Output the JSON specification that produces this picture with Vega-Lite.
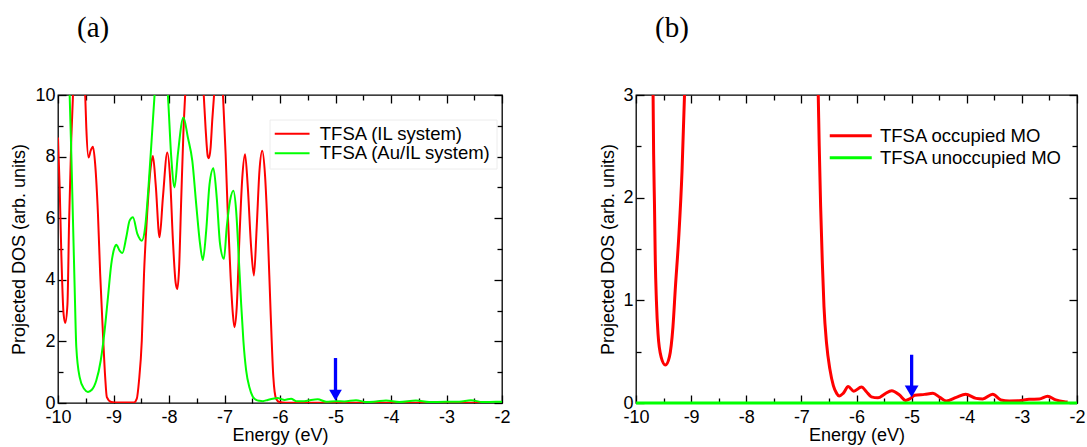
{
  "$schema": "https://vega.github.io/schema/vega-lite/v6.json",
  "padding": {"left": 10, "top": 13, "right": 0, "bottom": 0},
  "background": "white",
  "config": {
    "view": {"stroke": "black", "strokeWidth": 1.3},
    "font": "Liberation Sans",
    "axis": {
      "domain": false, "grid": false, "tickColor": "black", "tickWidth": 1.3,
      "labelFont": "Liberation Sans", "labelFontSize": 18, "labelColor": "black",
      "titleFont": "Liberation Sans", "titleFontSize": 18, "titleFontWeight": "normal", "titleColor": "black",
      "labelFlush": false, "labelOverlap": false
    },
    "legend": {"labelFont": "Liberation Sans", "labelFontSize": 18.5, "labelColor": "black", "labelLimit": 400},
    "title": {"font": "Liberation Serif", "fontSize": 29, "fontWeight": "normal", "color": "black"}
  },
  "datasets": {
    "a": [
      {"E": -10.0, "v": 8.62, "s": "TFSA (IL system)"},
      {"E": -9.97, "v": 7.0, "s": "TFSA (IL system)"},
      {"E": -9.94, "v": 4.84, "s": "TFSA (IL system)"},
      {"E": -9.9, "v": 2.9, "s": "TFSA (IL system)"},
      {"E": -9.87, "v": 2.6, "s": "TFSA (IL system)"},
      {"E": -9.83, "v": 3.2, "s": "TFSA (IL system)"},
      {"E": -9.8, "v": 5.9, "s": "TFSA (IL system)"},
      {"E": -9.76, "v": 8.6, "s": "TFSA (IL system)"},
      {"E": -9.73, "v": 10.0, "s": "TFSA (IL system)"},
      {"E": -9.62, "v": 12.5, "s": "TFSA (IL system)"},
      {"E": -9.51, "v": 10.0, "s": "TFSA (IL system)"},
      {"E": -9.49, "v": 8.94, "s": "TFSA (IL system)"},
      {"E": -9.45, "v": 7.97, "s": "TFSA (IL system)"},
      {"E": -9.41, "v": 8.2, "s": "TFSA (IL system)"},
      {"E": -9.37, "v": 8.32, "s": "TFSA (IL system)"},
      {"E": -9.33, "v": 7.75, "s": "TFSA (IL system)"},
      {"E": -9.28, "v": 6.13, "s": "TFSA (IL system)"},
      {"E": -9.24, "v": 4.19, "s": "TFSA (IL system)"},
      {"E": -9.19, "v": 2.25, "s": "TFSA (IL system)"},
      {"E": -9.15, "v": 0.84, "s": "TFSA (IL system)"},
      {"E": -9.12, "v": 0.19, "s": "TFSA (IL system)"},
      {"E": -9.04, "v": 0.03, "s": "TFSA (IL system)"},
      {"E": -8.98, "v": 0.02, "s": "TFSA (IL system)"},
      {"E": -8.8, "v": 0.02, "s": "TFSA (IL system)"},
      {"E": -8.63, "v": 0.02, "s": "TFSA (IL system)"},
      {"E": -8.58, "v": 0.14, "s": "TFSA (IL system)"},
      {"E": -8.54, "v": 0.73, "s": "TFSA (IL system)"},
      {"E": -8.49, "v": 2.03, "s": "TFSA (IL system)"},
      {"E": -8.45, "v": 4.19, "s": "TFSA (IL system)"},
      {"E": -8.39, "v": 6.24, "s": "TFSA (IL system)"},
      {"E": -8.33, "v": 7.65, "s": "TFSA (IL system)"},
      {"E": -8.29, "v": 8.02, "s": "TFSA (IL system)"},
      {"E": -8.24, "v": 7.1, "s": "TFSA (IL system)"},
      {"E": -8.17, "v": 5.38, "s": "TFSA (IL system)"},
      {"E": -8.11, "v": 6.67, "s": "TFSA (IL system)"},
      {"E": -8.03, "v": 8.13, "s": "TFSA (IL system)"},
      {"E": -7.98, "v": 7.3, "s": "TFSA (IL system)"},
      {"E": -7.93, "v": 5.3, "s": "TFSA (IL system)"},
      {"E": -7.88, "v": 3.9, "s": "TFSA (IL system)"},
      {"E": -7.85, "v": 3.7, "s": "TFSA (IL system)"},
      {"E": -7.82, "v": 4.3, "s": "TFSA (IL system)"},
      {"E": -7.78, "v": 6.6, "s": "TFSA (IL system)"},
      {"E": -7.74, "v": 8.8, "s": "TFSA (IL system)"},
      {"E": -7.7, "v": 10.3, "s": "TFSA (IL system)"},
      {"E": -7.55, "v": 13.0, "s": "TFSA (IL system)"},
      {"E": -7.38, "v": 10.2, "s": "TFSA (IL system)"},
      {"E": -7.34, "v": 8.9, "s": "TFSA (IL system)"},
      {"E": -7.3, "v": 8.0, "s": "TFSA (IL system)"},
      {"E": -7.28, "v": 7.95, "s": "TFSA (IL system)"},
      {"E": -7.25, "v": 8.3, "s": "TFSA (IL system)"},
      {"E": -7.22, "v": 9.2, "s": "TFSA (IL system)"},
      {"E": -7.18, "v": 10.2, "s": "TFSA (IL system)"},
      {"E": -7.1, "v": 11.5, "s": "TFSA (IL system)"},
      {"E": -7.03, "v": 10.1, "s": "TFSA (IL system)"},
      {"E": -6.98, "v": 8.1, "s": "TFSA (IL system)"},
      {"E": -6.94, "v": 6.1, "s": "TFSA (IL system)"},
      {"E": -6.89, "v": 4.1, "s": "TFSA (IL system)"},
      {"E": -6.85, "v": 2.9, "s": "TFSA (IL system)"},
      {"E": -6.82, "v": 2.46, "s": "TFSA (IL system)"},
      {"E": -6.78, "v": 3.1, "s": "TFSA (IL system)"},
      {"E": -6.73, "v": 5.4, "s": "TFSA (IL system)"},
      {"E": -6.68, "v": 7.3, "s": "TFSA (IL system)"},
      {"E": -6.63, "v": 8.08, "s": "TFSA (IL system)"},
      {"E": -6.58, "v": 7.0, "s": "TFSA (IL system)"},
      {"E": -6.52, "v": 5.05, "s": "TFSA (IL system)"},
      {"E": -6.47, "v": 4.14, "s": "TFSA (IL system)"},
      {"E": -6.42, "v": 5.7, "s": "TFSA (IL system)"},
      {"E": -6.37, "v": 7.54, "s": "TFSA (IL system)"},
      {"E": -6.32, "v": 8.19, "s": "TFSA (IL system)"},
      {"E": -6.27, "v": 7.4, "s": "TFSA (IL system)"},
      {"E": -6.22, "v": 5.5, "s": "TFSA (IL system)"},
      {"E": -6.17, "v": 3.0, "s": "TFSA (IL system)"},
      {"E": -6.12, "v": 0.84, "s": "TFSA (IL system)"},
      {"E": -6.07, "v": 0.14, "s": "TFSA (IL system)"},
      {"E": -6.01, "v": 0.03, "s": "TFSA (IL system)"},
      {"E": -5.9, "v": 0.01, "s": "TFSA (IL system)"},
      {"E": -4.0, "v": 0.01, "s": "TFSA (IL system)"},
      {"E": -2.2, "v": 0.01, "s": "TFSA (IL system)"},
      {"E": -10.0, "v": 16.0, "s": "TFSA (Au/IL system)"},
      {"E": -9.85, "v": 12.0, "s": "TFSA (Au/IL system)"},
      {"E": -9.79, "v": 10.0, "s": "TFSA (Au/IL system)"},
      {"E": -9.76, "v": 8.08, "s": "TFSA (Au/IL system)"},
      {"E": -9.73, "v": 5.92, "s": "TFSA (Au/IL system)"},
      {"E": -9.7, "v": 3.76, "s": "TFSA (Au/IL system)"},
      {"E": -9.67, "v": 1.81, "s": "TFSA (Au/IL system)"},
      {"E": -9.61, "v": 0.84, "s": "TFSA (Au/IL system)"},
      {"E": -9.53, "v": 0.46, "s": "TFSA (Au/IL system)"},
      {"E": -9.46, "v": 0.36, "s": "TFSA (Au/IL system)"},
      {"E": -9.39, "v": 0.43, "s": "TFSA (Au/IL system)"},
      {"E": -9.31, "v": 0.73, "s": "TFSA (Au/IL system)"},
      {"E": -9.23, "v": 1.38, "s": "TFSA (Au/IL system)"},
      {"E": -9.16, "v": 2.35, "s": "TFSA (Au/IL system)"},
      {"E": -9.1, "v": 3.43, "s": "TFSA (Au/IL system)"},
      {"E": -9.04, "v": 4.51, "s": "TFSA (Au/IL system)"},
      {"E": -8.98, "v": 5.05, "s": "TFSA (Au/IL system)"},
      {"E": -8.95, "v": 5.14, "s": "TFSA (Au/IL system)"},
      {"E": -8.89, "v": 4.95, "s": "TFSA (Au/IL system)"},
      {"E": -8.84, "v": 4.87, "s": "TFSA (Au/IL system)"},
      {"E": -8.77, "v": 5.38, "s": "TFSA (Au/IL system)"},
      {"E": -8.71, "v": 5.92, "s": "TFSA (Au/IL system)"},
      {"E": -8.65, "v": 6.03, "s": "TFSA (Au/IL system)"},
      {"E": -8.57, "v": 5.49, "s": "TFSA (Au/IL system)"},
      {"E": -8.49, "v": 5.27, "s": "TFSA (Au/IL system)"},
      {"E": -8.43, "v": 5.7, "s": "TFSA (Au/IL system)"},
      {"E": -8.37, "v": 7.0, "s": "TFSA (Au/IL system)"},
      {"E": -8.31, "v": 8.62, "s": "TFSA (Au/IL system)"},
      {"E": -8.26, "v": 10.0, "s": "TFSA (Au/IL system)"},
      {"E": -8.15, "v": 12.0, "s": "TFSA (Au/IL system)"},
      {"E": -8.02, "v": 10.0, "s": "TFSA (Au/IL system)"},
      {"E": -7.96, "v": 8.0, "s": "TFSA (Au/IL system)"},
      {"E": -7.9, "v": 7.0, "s": "TFSA (Au/IL system)"},
      {"E": -7.84, "v": 8.08, "s": "TFSA (Au/IL system)"},
      {"E": -7.74, "v": 9.27, "s": "TFSA (Au/IL system)"},
      {"E": -7.66, "v": 8.62, "s": "TFSA (Au/IL system)"},
      {"E": -7.58, "v": 7.86, "s": "TFSA (Au/IL system)"},
      {"E": -7.51, "v": 6.46, "s": "TFSA (Au/IL system)"},
      {"E": -7.44, "v": 5.16, "s": "TFSA (Au/IL system)"},
      {"E": -7.39, "v": 4.64, "s": "TFSA (Au/IL system)"},
      {"E": -7.33, "v": 5.59, "s": "TFSA (Au/IL system)"},
      {"E": -7.27, "v": 7.1, "s": "TFSA (Au/IL system)"},
      {"E": -7.2, "v": 7.62, "s": "TFSA (Au/IL system)"},
      {"E": -7.14, "v": 6.67, "s": "TFSA (Au/IL system)"},
      {"E": -7.08, "v": 5.16, "s": "TFSA (Au/IL system)"},
      {"E": -7.01, "v": 4.68, "s": "TFSA (Au/IL system)"},
      {"E": -6.96, "v": 5.7, "s": "TFSA (Au/IL system)"},
      {"E": -6.9, "v": 6.57, "s": "TFSA (Au/IL system)"},
      {"E": -6.84, "v": 6.89, "s": "TFSA (Au/IL system)"},
      {"E": -6.79, "v": 6.24, "s": "TFSA (Au/IL system)"},
      {"E": -6.74, "v": 4.62, "s": "TFSA (Au/IL system)"},
      {"E": -6.7, "v": 3.22, "s": "TFSA (Au/IL system)"},
      {"E": -6.66, "v": 2.03, "s": "TFSA (Au/IL system)"},
      {"E": -6.61, "v": 1.06, "s": "TFSA (Au/IL system)"},
      {"E": -6.55, "v": 0.5, "s": "TFSA (Au/IL system)"},
      {"E": -6.49, "v": 0.2, "s": "TFSA (Au/IL system)"},
      {"E": -6.43, "v": 0.1, "s": "TFSA (Au/IL system)"},
      {"E": -6.37, "v": 0.07, "s": "TFSA (Au/IL system)"},
      {"E": -6.31, "v": 0.06, "s": "TFSA (Au/IL system)"},
      {"E": -6.22, "v": 0.1, "s": "TFSA (Au/IL system)"},
      {"E": -6.13, "v": 0.14, "s": "TFSA (Au/IL system)"},
      {"E": -6.04, "v": 0.16, "s": "TFSA (Au/IL system)"},
      {"E": -5.98, "v": 0.13, "s": "TFSA (Au/IL system)"},
      {"E": -5.92, "v": 0.1, "s": "TFSA (Au/IL system)"},
      {"E": -5.8, "v": 0.14, "s": "TFSA (Au/IL system)"},
      {"E": -5.71, "v": 0.06, "s": "TFSA (Au/IL system)"},
      {"E": -5.56, "v": 0.06, "s": "TFSA (Au/IL system)"},
      {"E": -5.44, "v": 0.1, "s": "TFSA (Au/IL system)"},
      {"E": -5.32, "v": 0.12, "s": "TFSA (Au/IL system)"},
      {"E": -5.17, "v": 0.04, "s": "TFSA (Au/IL system)"},
      {"E": -4.99, "v": 0.06, "s": "TFSA (Au/IL system)"},
      {"E": -4.84, "v": 0.05, "s": "TFSA (Au/IL system)"},
      {"E": -4.63, "v": 0.09, "s": "TFSA (Au/IL system)"},
      {"E": -4.45, "v": 0.03, "s": "TFSA (Au/IL system)"},
      {"E": -4.27, "v": 0.05, "s": "TFSA (Au/IL system)"},
      {"E": -4.09, "v": 0.08, "s": "TFSA (Au/IL system)"},
      {"E": -3.85, "v": 0.03, "s": "TFSA (Au/IL system)"},
      {"E": -3.55, "v": 0.08, "s": "TFSA (Au/IL system)"},
      {"E": -3.31, "v": 0.03, "s": "TFSA (Au/IL system)"},
      {"E": -3.01, "v": 0.04, "s": "TFSA (Au/IL system)"},
      {"E": -2.77, "v": 0.04, "s": "TFSA (Au/IL system)"},
      {"E": -2.56, "v": 0.09, "s": "TFSA (Au/IL system)"},
      {"E": -2.35, "v": 0.03, "s": "TFSA (Au/IL system)"},
      {"E": -2.11, "v": 0.04, "s": "TFSA (Au/IL system)"},
      {"E": -2.0, "v": 0.04, "s": "TFSA (Au/IL system)"}
    ],
    "b": [
      {"E": -10.0, "v": 12.0, "s": "TFSA occupied MO"},
      {"E": -9.8, "v": 6.0, "s": "TFSA occupied MO"},
      {"E": -9.69, "v": 3.0, "s": "TFSA occupied MO"},
      {"E": -9.68, "v": 2.42, "s": "TFSA occupied MO"},
      {"E": -9.665, "v": 1.94, "s": "TFSA occupied MO"},
      {"E": -9.65, "v": 1.39, "s": "TFSA occupied MO"},
      {"E": -9.63, "v": 1.0, "s": "TFSA occupied MO"},
      {"E": -9.6, "v": 0.67, "s": "TFSA occupied MO"},
      {"E": -9.545, "v": 0.45, "s": "TFSA occupied MO"},
      {"E": -9.466, "v": 0.37, "s": "TFSA occupied MO"},
      {"E": -9.394, "v": 0.45, "s": "TFSA occupied MO"},
      {"E": -9.33, "v": 0.74, "s": "TFSA occupied MO"},
      {"E": -9.285, "v": 1.13, "s": "TFSA occupied MO"},
      {"E": -9.225, "v": 1.61, "s": "TFSA occupied MO"},
      {"E": -9.165, "v": 2.26, "s": "TFSA occupied MO"},
      {"E": -9.12, "v": 3.0, "s": "TFSA occupied MO"},
      {"E": -9.0, "v": 6.0, "s": "TFSA occupied MO"},
      {"E": -8.5, "v": 10.0, "s": "TFSA occupied MO"},
      {"E": -7.5, "v": 10.0, "s": "TFSA occupied MO"},
      {"E": -6.85, "v": 6.0, "s": "TFSA occupied MO"},
      {"E": -6.694, "v": 3.0, "s": "TFSA occupied MO"},
      {"E": -6.676, "v": 2.5, "s": "TFSA occupied MO"},
      {"E": -6.651, "v": 1.92, "s": "TFSA occupied MO"},
      {"E": -6.62, "v": 1.37, "s": "TFSA occupied MO"},
      {"E": -6.59, "v": 0.94, "s": "TFSA occupied MO"},
      {"E": -6.543, "v": 0.58, "s": "TFSA occupied MO"},
      {"E": -6.483, "v": 0.33, "s": "TFSA occupied MO"},
      {"E": -6.42, "v": 0.17, "s": "TFSA occupied MO"},
      {"E": -6.36, "v": 0.094, "s": "TFSA occupied MO"},
      {"E": -6.314, "v": 0.068, "s": "TFSA occupied MO"},
      {"E": -6.241, "v": 0.094, "s": "TFSA occupied MO"},
      {"E": -6.15, "v": 0.16, "s": "TFSA occupied MO"},
      {"E": -6.05, "v": 0.115, "s": "TFSA occupied MO"},
      {"E": -5.91, "v": 0.155, "s": "TFSA occupied MO"},
      {"E": -5.82, "v": 0.11, "s": "TFSA occupied MO"},
      {"E": -5.73, "v": 0.06, "s": "TFSA occupied MO"},
      {"E": -5.61, "v": 0.05, "s": "TFSA occupied MO"},
      {"E": -5.49, "v": 0.087, "s": "TFSA occupied MO"},
      {"E": -5.36, "v": 0.12, "s": "TFSA occupied MO"},
      {"E": -5.22, "v": 0.078, "s": "TFSA occupied MO"},
      {"E": -5.108, "v": 0.025, "s": "TFSA occupied MO"},
      {"E": -5.035, "v": 0.04, "s": "TFSA occupied MO"},
      {"E": -4.945, "v": 0.075, "s": "TFSA occupied MO"},
      {"E": -4.765, "v": 0.084, "s": "TFSA occupied MO"},
      {"E": -4.614, "v": 0.094, "s": "TFSA occupied MO"},
      {"E": -4.49, "v": 0.055, "s": "TFSA occupied MO"},
      {"E": -4.373, "v": 0.02, "s": "TFSA occupied MO"},
      {"E": -4.19, "v": 0.055, "s": "TFSA occupied MO"},
      {"E": -4.02, "v": 0.085, "s": "TFSA occupied MO"},
      {"E": -3.83, "v": 0.045, "s": "TFSA occupied MO"},
      {"E": -3.71, "v": 0.04, "s": "TFSA occupied MO"},
      {"E": -3.53, "v": 0.085, "s": "TFSA occupied MO"},
      {"E": -3.38, "v": 0.03, "s": "TFSA occupied MO"},
      {"E": -3.23, "v": 0.02, "s": "TFSA occupied MO"},
      {"E": -3.05, "v": 0.022, "s": "TFSA occupied MO"},
      {"E": -2.87, "v": 0.036, "s": "TFSA occupied MO"},
      {"E": -2.685, "v": 0.038, "s": "TFSA occupied MO"},
      {"E": -2.535, "v": 0.065, "s": "TFSA occupied MO"},
      {"E": -2.385, "v": 0.03, "s": "TFSA occupied MO"},
      {"E": -2.23, "v": 0.013, "s": "TFSA occupied MO"},
      {"E": -2.17, "v": 0.01, "s": "TFSA occupied MO"},
      {"E": -10.0, "v": 0.0, "s": "TFSA unoccupied MO"},
      {"E": -2.0, "v": 0.0, "s": "TFSA unoccupied MO"}
    ],
    "arrowA": [{"E": -5, "top": 1.46, "bot": 0.35, "head": 0.25}],
    "arrowB": [{"E": -5, "top": 0.47, "bot": 0.15, "head": 0.113}]
  },
  "hconcat": [
    {
      "width": 444,
      "height": 308,
      "title": {"text": "(a)", "anchor": "start", "frame": "group", "dx": 19, "offset": 43},
      "layer": [
        {
          "data": {"name": "a"},
          "transform": [{"filter": "datum.s === 'TFSA (IL system)'"}],
          "mark": {"type": "line", "interpolate": "monotone", "strokeWidth": 2, "clip": true},
          "encoding": {
            "x": {"field": "E", "type": "quantitative", "scale": {"domain": [-10, -2], "nice": false, "zero": false},
              "axis": {"orient": "bottom", "values": [-10, -9, -8, -7, -6, -5, -4, -3, -2], "labelExpr": "toString(datum.value)", "tickSize": -8, "labelPadding": 13, "title": "Energy (eV)", "titlePadding": 0}},
            "y": {"field": "v", "type": "quantitative", "scale": {"domain": [0, 10], "nice": false, "zero": false},
              "axis": {"orient": "left", "values": [0, 2, 4, 6, 8, 10], "tickSize": -8, "labelPadding": 11, "title": "Projected DOS (arb. units)", "titlePadding": 6}},
            "color": {"field": "s", "type": "nominal",
              "scale": {"domain": ["TFSA (IL system)", "TFSA (Au/IL system)"], "range": ["#ff0000", "#00ff00"]},
              "legend": {"orient": "none", "legendX": 211.5, "legendY": 24.5, "title": null, "symbolType": "M-2.9,0L2.9,0", "symbolSize": 144, "symbolStrokeWidth": 2, "symbolOffset": 8.4, "labelOffset": 18.4, "rowPadding": 0.5, "padding": 5, "strokeColor": "#ececec", "fillColor": "white"}}
          }
        },
        {
          "data": {"name": "a"},
          "transform": [{"filter": "datum.s === 'TFSA (Au/IL system)'"}],
          "mark": {"type": "line", "interpolate": "monotone", "strokeWidth": 2, "clip": true},
          "encoding": {
            "x": {"field": "E", "type": "quantitative", "axis": {"orient": "bottom", "values": [-9.5, -8.5, -7.5, -6.5, -5.5, -4.5, -3.5, -2.5], "labels": false, "tickSize": -5, "title": null}},
            "y": {"field": "v", "type": "quantitative", "axis": {"orient": "left", "values": [1, 3, 5, 7, 9], "labels": false, "tickSize": -5, "title": null}},
            "color": {"field": "s", "type": "nominal",
              "scale": {"domain": ["TFSA (IL system)", "TFSA (Au/IL system)"], "range": ["#ff0000", "#00ff00"]},
              "legend": {"orient": "none", "legendX": 211.5, "legendY": 24.5, "title": null, "symbolType": "M-2.9,0L2.9,0", "symbolSize": 144, "symbolStrokeWidth": 2, "symbolOffset": 8.4, "labelOffset": 18.4, "rowPadding": 0.5, "padding": 5, "strokeColor": "#ececec", "fillColor": "white"}}
          }
        },
        {
          "data": {"name": "arrowA"},
          "mark": {"type": "rule", "color": "#0000ff", "strokeWidth": 3.3},
          "encoding": {
            "x": {"field": "E", "type": "quantitative", "axis": {"orient": "top", "values": [-10, -9, -8, -7, -6, -5, -4, -3, -2], "labels": false, "tickSize": -8, "title": null}},
            "y": {"field": "top", "type": "quantitative", "axis": {"orient": "right", "values": [0, 2, 4, 6, 8, 10], "labels": false, "tickSize": -8, "title": null}},
            "y2": {"field": "bot"}
          }
        },
        {
          "data": {"name": "arrowA"},
          "mark": {"type": "point", "shape": "triangle-down", "filled": true, "size": 160, "color": "#0000ff", "opacity": 1, "strokeWidth": 0},
          "encoding": {
            "x": {"field": "E", "type": "quantitative", "axis": {"orient": "top", "values": [-9.5, -8.5, -7.5, -6.5, -5.5, -4.5, -3.5, -2.5], "labels": false, "tickSize": -5, "title": null}},
            "y": {"field": "head", "type": "quantitative", "axis": {"orient": "right", "values": [1, 3, 5, 7, 9], "labels": false, "tickSize": -5, "title": null}}
          }
        }
      ],
      "resolve": {"axis": {"x": "independent", "y": "independent"}}
    },
    {
      "width": 441,
      "height": 308,
      "title": {"text": "(b)", "anchor": "start", "frame": "group", "dx": 19, "offset": 43},
      "layer": [
        {
          "data": {"name": "b"},
          "transform": [{"filter": "datum.s === 'TFSA occupied MO'"}],
          "mark": {"type": "line", "interpolate": "monotone", "strokeWidth": 3, "clip": true},
          "encoding": {
            "x": {"field": "E", "type": "quantitative", "scale": {"domain": [-10, -2], "nice": false, "zero": false},
              "axis": {"orient": "bottom", "values": [-10, -9, -8, -7, -6, -5, -4, -3, -2], "labelExpr": "toString(datum.value)", "tickSize": -8, "labelPadding": 13, "title": "Energy (eV)", "titlePadding": 0}},
            "y": {"field": "v", "type": "quantitative", "scale": {"domain": [0, 3], "nice": false, "zero": false},
              "axis": {"orient": "left", "values": [0, 1, 2, 3], "tickSize": -8, "labelPadding": 11, "title": "Projected DOS (arb. units)", "titlePadding": 5}},
            "color": {"field": "s", "type": "nominal",
              "scale": {"domain": ["TFSA occupied MO", "TFSA unoccupied MO"], "range": ["#ff0000", "#00ff00"]},
              "legend": {"orient": "none", "legendX": 188.5, "legendY": 26.5, "title": null, "symbolType": "M-3.5,0L3.5,0", "symbolSize": 144, "symbolStrokeWidth": 3, "symbolOffset": 12, "labelOffset": 20, "rowPadding": 2.9, "padding": 5}}
          }
        },
        {
          "data": {"name": "b"},
          "transform": [{"filter": "datum.s === 'TFSA unoccupied MO'"}],
          "mark": {"type": "line", "strokeWidth": 3, "clip": false},
          "encoding": {
            "x": {"field": "E", "type": "quantitative", "axis": {"orient": "bottom", "values": [-9.5, -8.5, -7.5, -6.5, -5.5, -4.5, -3.5, -2.5], "labels": false, "tickSize": -5, "title": null}},
            "y": {"field": "v", "type": "quantitative", "axis": {"orient": "left", "values": [0.5, 1.5, 2.5], "labels": false, "tickSize": -5, "title": null}},
            "color": {"field": "s", "type": "nominal",
              "scale": {"domain": ["TFSA occupied MO", "TFSA unoccupied MO"], "range": ["#ff0000", "#00ff00"]},
              "legend": {"orient": "none", "legendX": 188.5, "legendY": 26.5, "title": null, "symbolType": "M-3.5,0L3.5,0", "symbolSize": 144, "symbolStrokeWidth": 3, "symbolOffset": 12, "labelOffset": 20, "rowPadding": 2.9, "padding": 5}}
          }
        },
        {
          "data": {"name": "arrowB"},
          "mark": {"type": "rule", "color": "#0000ff", "strokeWidth": 3.3},
          "encoding": {
            "x": {"field": "E", "type": "quantitative", "axis": {"orient": "top", "values": [-10, -9, -8, -7, -6, -5, -4, -3, -2], "labels": false, "tickSize": -8, "title": null}},
            "y": {"field": "top", "type": "quantitative", "axis": {"orient": "right", "values": [0, 1, 2, 3], "labels": false, "tickSize": -8, "title": null}},
            "y2": {"field": "bot"}
          }
        },
        {
          "data": {"name": "arrowB"},
          "mark": {"type": "point", "shape": "triangle-down", "filled": true, "size": 190, "color": "#0000ff", "opacity": 1, "strokeWidth": 0},
          "encoding": {
            "x": {"field": "E", "type": "quantitative", "axis": {"orient": "top", "values": [-9.5, -8.5, -7.5, -6.5, -5.5, -4.5, -3.5, -2.5], "labels": false, "tickSize": -5, "title": null}},
            "y": {"field": "head", "type": "quantitative", "axis": {"orient": "right", "values": [0.5, 1.5, 2.5], "labels": false, "tickSize": -5, "title": null}}
          }
        }
      ],
      "resolve": {"axis": {"x": "independent", "y": "independent"}}
    }
  ],
  "spacing": 88,
  "resolve": {"scale": {"color": "independent"}, "legend": {"color": "independent"}}
}
